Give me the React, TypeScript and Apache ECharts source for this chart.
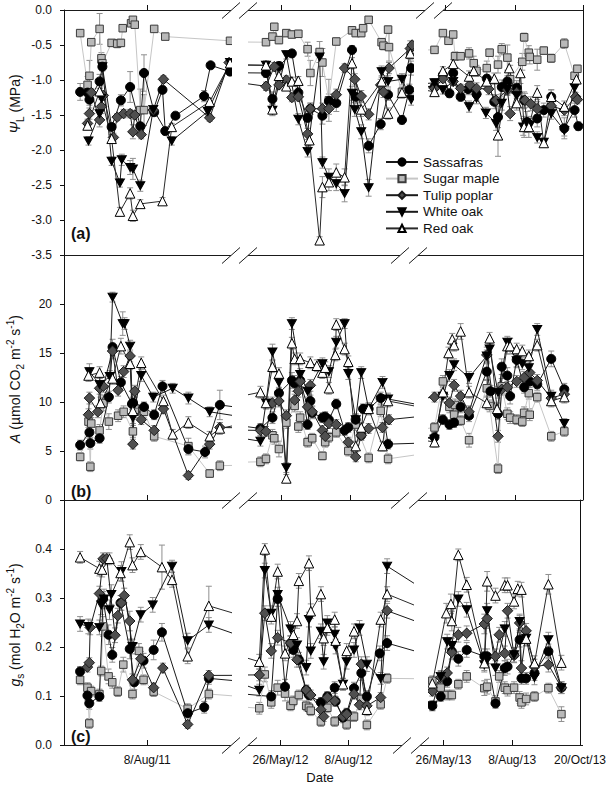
import React, { useEffect, useRef } from 'react';
import * as echarts from 'echarts';

const FONT = "'Liberation Sans', Arial, Helvetica, sans-serif";

const SPECIES = ['Sassafras', 'Sugar maple', 'Tulip poplar', 'White oak', 'Red oak'];
const YEARS = [2011, 2012, 2013];
const YEAR_START_DAY: Record<number, number> = { 2011: 0, 2012: 365, 2013: 731 };

// Tick dates of the broken date axis: [year, day of year, label]
const TICKS: [number, number, string][] = [
  [2011, 220, '8/Aug/11'],
  [2012, 147, '26/May/12'],
  [2012, 221, '8/Aug/12'],
  [2013, 146, '26/May/13'],
  [2013, 220, '8/Aug/13'],
  [2013, 293, '20/Oct/13'],
];

// ---------- Panel (a): leaf water potential (MPa) [doy, mean, se] ----------
const aSas11 = [[147,-1.17,0.12],[155,-1.18,0.06],[157,-1.28,0.08],[168,-1.02,0.1],[171,-0.81,0.05],[181,-1.67,0.05],[191,-1.29,0.08],[201,-1.10,0.22],[212,-1.66,0.05],[216,-0.90,0.26],[227,-1.46,0.05],[236,-1.14,0.05],[239,-1.73,0.05],[250,-1.51,0.04],[281,-1.23,0.08],[288,-0.79,0.04],[309,-0.88,0.05]];
const aSas12 = [[130,-0.90,0.06],[137,-1.27,0.1],[144,-0.80,0.06],[158,-0.62,0.05],[165,-1.18,0.08],[175,-1.54,0.06],[178,-1.41,0.08],[191,-1.51,0.12],[198,-1.30,0.1],[206,-1.33,0.12],[223,-0.57,0.06],[227,-1.24,0.1],[241,-1.94,0.1],[254,-1.63,0.08],[262,-1.21,0.08],[277,-1.57,0.06],[285,-1.14,0.08],[287,-0.83,0.1]];
const aSas13 = [[134,-1.10,0.05],[143,-0.93,0.06],[150,-1.19,0.06],[154,-0.90,0.06],[162,-1.24,0.06],[170,-1.13,0.08],[179,-1.20,0.1],[190,-0.98,0.1],[198,-1.31,0.1],[202,-1.53,0.15],[206,-1.10,0.1],[212,-1.02,0.08],[222,-1.11,0.1],[230,-1.29,0.12],[233,-1.60,0.15],[244,-1.55,0.12],[251,-1.43,0.1],[259,-1.24,0.1],[273,-1.69,0.15],[284,-1.43,0.1],[288,-1.66,0.06]];
const aSug11 = [[147,-0.33,0.04],[155,-1.07,0.12],[157,-0.94,0.22],[159,-0.46,0.05],[168,-0.27,0.22],[170,-0.69,0.08],[171,-0.76,0.06],[181,-0.47,0.05],[187,-0.48,0.06],[191,-0.47,0.05],[193,-0.26,0.04],[202,-0.19,0.04],[204,-0.14,0.03],[206,-0.21,0.04],[212,-1.43,0.3],[216,-1.43,0.22],[227,-0.27,0.04],[239,-0.38,0.04],[309,-0.44,0.04]];
const aSug12 = [[130,-0.46,0.04],[137,-0.38,0.05],[139,-0.24,0.05],[144,-0.43,0.05],[152,-0.33,0.05],[158,-0.35,0.05],[165,-0.34,0.05],[175,-0.56,0.1],[178,-0.90,0.18],[188,-0.60,0.15],[191,-0.75,0.2],[198,-1.29,0.3],[206,-0.45,0.05],[223,-0.29,0.05],[227,-0.33,0.05],[233,-0.33,0.05],[235,-0.26,0.05],[241,-0.14,0.04],[255,-0.46,0.05],[257,-0.51,0.06],[262,-0.28,0.05],[263,-0.53,0.2],[277,-1.17,0.06],[286,-0.64,0.2],[287,-0.57,0.08]];
const aSug13 = [[134,-0.57,0.05],[143,-0.33,0.04],[149,-0.44,0.04],[154,-0.35,0.04],[156,-0.66,0.06],[162,-0.66,0.05],[171,-0.62,0.08],[176,-0.76,0.1],[179,-0.87,0.08],[190,-0.83,0.1],[193,-0.61,0.05],[202,-0.78,0.12],[206,-0.56,0.08],[212,-0.68,0.18],[215,-0.99,0.2],[228,-0.74,0.12],[230,-0.39,0.06],[235,-0.61,0.1],[236,-0.67,0.1],[244,-0.71,0.15],[251,-0.58,0.05],[259,-0.69,0.06],[273,-0.48,0.07],[284,-0.94,0.05],[287,-0.84,0.05]];
const aTul11 = [[155,-1.62,0.06],[157,-1.48,0.08],[159,-1.18,0.06],[168,-1.57,0.1],[170,-1.38,0.1],[172,-1.22,0.06],[183,-1.82,0.06],[187,-1.53,0.05],[194,-1.48,0.06],[201,-1.48,0.06],[204,-1.74,0.1],[206,-1.50,0.06],[213,-1.78,0.06],[226,-1.43,0.05],[237,-0.99,0.05],[287,-1.54,0.05],[308,-0.75,0.05]];
const aTul12 = [[130,-1.09,0.06],[139,-0.81,0.06],[144,-1.07,0.06],[152,-1.00,0.06],[158,-1.25,0.06],[165,-1.24,0.06],[175,-1.77,0.08],[178,-1.41,0.08],[191,-1.41,0.08],[198,-1.41,0.08],[206,-1.21,0.08],[215,-0.83,0.06],[226,-0.99,0.08],[233,-1.23,0.08],[241,-1.49,0.08],[254,-1.07,0.08],[257,-1.17,0.08],[263,-0.83,0.08],[286,-0.55,0.06],[288,-0.50,0.05]];
const aTul13 = [[134,-1.12,0.06],[143,-0.98,0.06],[154,-1.02,0.06],[162,-1.12,0.06],[172,-1.07,0.08],[179,-1.12,0.08],[192,-1.13,0.08],[200,-1.29,0.08],[212,-1.14,0.08],[215,-1.48,0.1],[222,-1.18,0.08],[231,-1.29,0.1],[237,-1.34,0.1],[244,-1.41,0.1],[259,-1.37,0.08],[273,-1.43,0.08],[285,-1.24,0.06],[287,-1.28,0.06]];
const aWo11 = [[156,-1.87,0.06],[168,-1.48,0.08],[170,-1.26,0.1],[171,-0.81,0.06],[181,-2.16,0.06],[190,-2.47,0.06],[192,-2.14,0.08],[201,-2.25,0.1],[204,-2.27,0.15],[212,-2.51,0.08],[226,-1.42,0.05],[246,-1.87,0.06],[285,-1.45,0.05],[309,-0.75,0.05]];
const aWo12 = [[130,-0.79,0.06],[137,-1.43,0.08],[152,-0.64,0.06],[165,-1.56,0.08],[175,-2.02,0.08],[188,-0.67,0.08],[191,-2.18,0.08],[198,-2.39,0.12],[206,-2.48,0.1],[215,-2.62,0.12],[223,-1.19,0.1],[226,-1.42,0.1],[233,-1.74,0.1],[241,-2.54,0.12],[255,-0.88,0.08],[262,-1.02,0.08],[277,-0.99,0.08],[287,-1.28,0.08]];
const aWo13 = [[134,-1.04,0.06],[143,-1.14,0.06],[154,-1.02,0.06],[171,-1.38,0.08],[179,-1.26,0.08],[189,-1.47,0.08],[200,-1.62,0.1],[206,-1.33,0.1],[212,-1.13,0.08],[222,-1.22,0.1],[229,-1.67,0.12],[236,-1.65,0.1],[244,-1.82,0.08],[251,-1.89,0.06],[259,-1.48,0.08],[273,-1.72,0.08],[284,-1.11,0.06]];
const aRo11 = [[155,-1.65,0.06],[168,-1.16,0.08],[181,-1.84,0.06],[190,-2.88,0.06],[201,-2.62,0.08],[204,-2.94,0.08],[212,-2.77,0.06],[236,-2.73,0.05],[246,-1.67,0.05],[287,-1.31,0.05],[309,-0.76,0.05]];
const aRo12 = [[130,-0.79,0.06],[137,-1.42,0.08],[144,-0.94,0.06],[152,-1.09,0.06],[158,-1.02,0.06],[165,-1.01,0.06],[177,-1.86,0.08],[188,-3.29,0.05],[191,-2.53,0.15],[198,-2.46,0.12],[206,-2.32,0.12],[215,-2.39,0.12],[223,-0.76,0.08],[233,-1.42,0.1],[255,-1.02,0.08],[262,-1.48,0.08],[277,-1.18,0.08],[286,-0.62,0.08]];
const aRo13 = [[134,-1.17,0.06],[143,-0.87,0.06],[154,-0.77,0.06],[171,-0.95,0.08],[176,-0.87,0.08],[190,-1.02,0.08],[198,-0.98,0.08],[202,-1.79,0.3],[214,-0.83,0.1],[222,-1.33,0.1],[226,-0.90,0.15],[230,-1.67,0.15],[235,-1.67,0.15],[244,-1.18,0.1],[251,-1.90,0.06],[259,-1.24,0.1],[273,-1.38,0.08],[286,-0.99,0.06]];

// ---------- Panel (b): net assimilation A ----------
const bSas11 = [[147,5.6,0.5],[157,6.9,0.6],[158,5.8,0.6],[168,6.3,0.5],[178,10.5,0.6],[182,15.6,0.8],[191,12.0,0.6],[203,9.8,0.6],[204,9.9,0.6],[216,9.5,0.5],[227,8.7,0.5],[236,11.6,0.6],[264,5.2,0.6],[282,4.9,0.6],[298,9.7,1.5]];
const bSas12 = [[124,7.3,0.5],[137,8.4,0.6],[144,10.9,0.6],[158,12.2,0.8],[161,11.9,0.8],[167,12.2,0.6],[175,7.7,0.5],[178,10.1,0.6],[180,8.9,0.6],[191,8.4,0.5],[194,8.5,0.5],[198,8.2,0.5],[206,9.8,0.5],[215,7.1,0.5],[219,7.4,0.5],[227,8.2,0.5],[233,6.6,0.5],[235,9.3,0.5],[241,9.3,0.5],[254,10.4,0.6],[262,5.7,0.5]];
const bSas13 = [[134,6.4,0.5],[143,8.2,0.5],[150,7.7,0.5],[155,7.9,0.5],[162,9.5,0.6],[171,8.6,0.6],[190,13.1,0.8],[194,11.1,0.6],[202,8.8,0.6],[206,13.6,0.8],[212,12.7,0.8],[215,10.6,0.8],[222,14.3,0.8],[230,11.5,0.6],[236,12.1,0.6],[244,11.8,0.6],[259,14.4,0.8],[273,11.3,0.6]];
const bSug11 = [[147,4.4,0.4],[156,8.0,0.6],[158,3.4,0.5],[159,7.8,0.6],[168,7.1,0.6],[172,9.9,0.8],[178,8.0,0.8],[188,8.6,0.6],[194,9.0,0.6],[204,7.0,0.6],[206,9.0,0.6],[216,9.0,0.6],[227,6.5,0.5],[264,5.5,0.8],[287,2.7,0.4],[298,3.5,0.5]];
const bSug12 = [[124,3.9,0.5],[130,4.2,0.5],[137,6.6,0.6],[139,6.3,0.6],[144,5.2,0.8],[152,7.9,0.6],[161,9.6,0.6],[165,7.5,0.6],[167,8.4,0.6],[175,5.9,0.5],[180,6.3,0.5],[191,4.5,0.4],[194,5.9,0.5],[198,6.4,0.5],[206,6.9,0.5],[219,5.0,0.5],[227,7.7,0.6],[241,4.3,0.5],[254,9.1,0.6],[262,4.2,0.5]];
const bSug13 = [[134,7.4,0.5],[143,12.1,0.6],[150,9.5,0.6],[155,8.7,0.6],[156,9.7,0.6],[162,8.1,0.5],[171,6.1,0.7],[190,11.4,0.8],[193,9.6,0.6],[202,3.2,0.5],[206,11.6,0.8],[212,8.8,0.6],[215,8.4,0.6],[222,8.2,0.5],[228,8.0,0.5],[230,8.9,0.6],[235,10.9,0.6],[236,8.7,0.6],[244,10.5,0.5],[259,6.5,0.5],[273,7.0,0.5]];
const bTul11 = [[156,8.7,0.6],[157,10.4,0.6],[166,9.0,0.6],[168,11.4,0.6],[172,11.6,0.6],[182,15.2,0.8],[188,11.2,0.6],[194,13.1,0.6],[201,14.7,0.6],[204,5.7,0.5],[206,11.1,0.6],[213,8.2,0.5],[227,7.1,0.5],[237,9.3,0.5],[264,2.5,0.4],[287,5.7,0.5],[298,7.4,0.5]];
const bTul12 = [[124,7.1,0.5],[130,7.0,0.5],[137,9.9,0.6],[144,10.1,0.6],[152,8.6,0.6],[161,10.2,0.6],[165,11.1,0.6],[167,12.1,0.6],[175,9.5,0.6],[178,11.7,0.6],[180,9.0,0.6],[191,7.1,0.5],[194,6.5,0.5],[198,7.8,0.5],[206,7.7,0.5],[219,5.9,0.5],[227,4.4,0.5],[233,6.6,0.5],[241,7.3,0.5],[256,7.4,0.5],[263,8.2,0.5]];
const bTul13 = [[134,10.5,0.5],[143,10.8,0.5],[150,9.9,0.6],[155,11.7,0.6],[162,10.6,0.6],[171,9.0,0.6],[190,14.8,0.8],[202,6.5,0.6],[206,11.3,0.6],[212,11.5,0.6],[222,12.1,0.6],[230,12.5,0.6],[236,13.0,0.6],[244,12.2,0.6],[259,10.4,0.6],[273,10.8,0.6]];
const bWo11 = [[157,13.1,0.8],[168,11.8,0.6],[179,12.6,0.6],[182,20.7,0.5],[193,18.0,1.2],[195,18.0,0.6],[201,15.7,0.6],[204,8.4,0.6],[213,12.7,0.6],[226,10.5,0.5],[247,11.4,0.5],[264,10.4,0.6],[287,9.0,0.5]];
const bWo12 = [[124,6.0,0.5],[130,9.9,0.6],[137,15.1,0.8],[144,12.0,0.6],[152,3.3,0.5],[158,18.0,0.6],[167,12.8,0.6],[175,11.1,0.6],[191,13.9,0.6],[198,13.1,0.6],[206,16.1,0.6],[215,18.0,0.5],[219,12.9,0.6],[227,8.2,0.6],[233,13.0,0.6],[241,9.3,0.6],[256,12.0,0.6],[262,10.3,0.6]];
const bWo13 = [[134,6.2,0.5],[143,10.6,0.6],[150,12.7,0.6],[155,13.8,0.6],[171,12.5,0.6],[190,14.7,0.6],[193,15.4,0.6],[202,11.0,0.6],[212,16.1,0.6],[222,14.2,0.6],[228,13.9,0.6],[235,13.5,0.6],[244,17.4,0.6],[259,10.6,0.6],[273,7.8,0.5]];
const bRo11 = [[156,12.7,0.6],[168,13.0,0.6],[169,9.9,0.6],[182,12.4,0.6],[191,15.7,0.8],[201,13.9,0.6],[204,9.1,0.6],[213,14.0,0.6],[237,10.1,0.6],[247,6.7,0.5],[264,7.9,0.6],[287,6.5,0.5],[298,7.3,0.6]];
const bRo12 = [[124,11.0,0.6],[130,9.9,0.6],[137,13.6,0.6],[144,12.9,0.6],[152,2.2,0.4],[158,16.0,0.6],[161,14.4,0.6],[167,14.4,0.6],[178,14.0,0.6],[185,13.7,0.6],[191,13.0,0.6],[194,13.5,0.6],[198,11.4,0.6],[205,14.8,0.6],[206,17.9,0.6],[215,15.4,0.6],[219,14.1,0.6],[227,5.5,0.5],[233,7.4,0.5],[241,9.3,0.6],[256,5.5,0.5],[262,10.1,0.6]];
const bRo13 = [[134,5.9,0.5],[143,11.0,0.6],[149,15.0,0.6],[153,16.4,0.6],[155,15.8,0.6],[162,17.2,0.8],[171,11.0,0.6],[190,9.9,0.6],[193,16.5,0.6],[201,9.3,0.6],[212,15.7,0.8],[215,15.7,0.8],[222,15.4,0.6],[228,15.2,0.6],[235,14.7,0.6],[244,15.8,0.6],[259,10.1,0.6],[273,10.5,0.6]];

// ---------- Panel (c): stomatal conductance gs ----------
const cSas11 = [[147,0.150,0.01],[155,0.101,0.01],[157,0.085,0.012],[168,0.099,0.01],[172,0.298,0.015],[178,0.225,0.02],[182,0.184,0.015],[191,0.290,0.015],[201,0.196,0.02],[206,0.128,0.015],[216,0.172,0.015],[227,0.194,0.02],[236,0.230,0.018],[264,0.065,0.01],[282,0.077,0.012],[287,0.136,0.012]];
const cSas12 = [[137,0.099,0.012],[144,0.298,0.015],[152,0.119,0.015],[158,0.208,0.015],[161,0.194,0.015],[167,0.174,0.015],[175,0.112,0.01],[178,0.102,0.01],[191,0.087,0.01],[198,0.099,0.01],[206,0.117,0.012],[207,0.089,0.01],[215,0.056,0.01],[219,0.065,0.01],[227,0.116,0.012],[235,0.147,0.015],[241,0.099,0.012],[255,0.187,0.015],[263,0.208,0.015]];
const cSas13 = [[134,0.080,0.01],[143,0.099,0.01],[150,0.130,0.012],[155,0.191,0.015],[162,0.176,0.015],[171,0.194,0.015],[190,0.181,0.015],[193,0.181,0.015],[202,0.085,0.01],[212,0.157,0.015],[215,0.160,0.015],[222,0.184,0.015],[228,0.215,0.015],[230,0.136,0.012],[235,0.136,0.012],[244,0.147,0.015],[259,0.191,0.015],[273,0.117,0.012]];
const cSug11 = [[147,0.133,0.01],[155,0.117,0.01],[157,0.044,0.01],[159,0.110,0.01],[168,0.104,0.01],[170,0.151,0.01],[172,0.242,0.02],[178,0.140,0.015],[182,0.128,0.012],[188,0.109,0.01],[194,0.164,0.015],[204,0.104,0.01],[211,0.192,0.015],[216,0.133,0.01],[227,0.109,0.01],[264,0.074,0.01],[287,0.104,0.01]];
const cSug12 = [[124,0.075,0.012],[130,0.144,0.015],[137,0.087,0.012],[144,0.117,0.015],[152,0.105,0.015],[158,0.080,0.01],[161,0.090,0.01],[167,0.102,0.01],[175,0.080,0.01],[178,0.076,0.01],[180,0.070,0.01],[191,0.048,0.01],[198,0.076,0.01],[206,0.048,0.01],[219,0.042,0.01],[227,0.058,0.01],[235,0.094,0.01],[241,0.041,0.01],[256,0.083,0.01],[263,0.136,0.01]];
const cSug13 = [[134,0.131,0.01],[143,0.117,0.01],[150,0.102,0.01],[155,0.102,0.01],[162,0.124,0.01],[171,0.140,0.012],[190,0.116,0.015],[193,0.119,0.015],[202,0.089,0.012],[206,0.140,0.012],[212,0.117,0.012],[215,0.112,0.012],[222,0.117,0.012],[228,0.097,0.012],[230,0.087,0.012],[235,0.094,0.012],[244,0.099,0.01],[259,0.116,0.01],[273,0.063,0.015]];
const cTul11 = [[155,0.159,0.01],[157,0.168,0.01],[158,0.240,0.015],[168,0.309,0.015],[172,0.380,0.012],[176,0.380,0.012],[185,0.224,0.015],[188,0.264,0.015],[192,0.290,0.015],[195,0.305,0.015],[201,0.253,0.02],[204,0.133,0.012],[213,0.176,0.015],[227,0.117,0.01],[237,0.157,0.01],[264,0.042,0.008],[287,0.142,0.01]];
const cTul12 = [[124,0.143,0.012],[130,0.269,0.015],[137,0.192,0.015],[144,0.219,0.015],[158,0.208,0.015],[165,0.174,0.015],[175,0.112,0.01],[180,0.102,0.01],[191,0.072,0.01],[194,0.058,0.01],[198,0.097,0.01],[206,0.090,0.01],[215,0.058,0.01],[219,0.063,0.01],[227,0.104,0.01],[233,0.082,0.01],[235,0.165,0.015],[241,0.080,0.01],[256,0.097,0.01],[263,0.274,0.015]];
const cTul13 = [[134,0.110,0.01],[143,0.138,0.012],[150,0.147,0.012],[155,0.189,0.015],[162,0.225,0.015],[171,0.228,0.015],[190,0.247,0.02],[193,0.258,0.02],[202,0.181,0.015],[206,0.225,0.015],[212,0.187,0.015],[215,0.274,0.015],[222,0.183,0.015],[228,0.249,0.015],[230,0.157,0.015],[235,0.233,0.015],[244,0.160,0.015],[259,0.164,0.015],[273,0.117,0.012]];
const cWo11 = [[147,0.247,0.015],[156,0.242,0.015],[168,0.240,0.015],[170,0.286,0.02],[173,0.298,0.02],[179,0.276,0.02],[181,0.307,0.02],[192,0.354,0.02],[204,0.201,0.015],[213,0.266,0.015],[226,0.286,0.015],[247,0.365,0.012],[264,0.213,0.015],[287,0.245,0.015]];
const cWo12 = [[124,0.112,0.012],[130,0.356,0.015],[137,0.269,0.015],[144,0.307,0.015],[158,0.237,0.015],[165,0.204,0.015],[175,0.158,0.015],[178,0.256,0.015],[180,0.192,0.015],[191,0.232,0.015],[194,0.170,0.015],[198,0.249,0.015],[206,0.226,0.015],[207,0.201,0.015],[215,0.124,0.012],[219,0.170,0.015],[227,0.194,0.015],[233,0.239,0.015],[241,0.165,0.015],[256,0.136,0.012],[263,0.365,0.015]];
const cWo13 = [[134,0.080,0.01],[143,0.140,0.012],[150,0.211,0.015],[155,0.203,0.015],[162,0.298,0.015],[171,0.276,0.015],[190,0.164,0.015],[193,0.274,0.015],[202,0.157,0.015],[212,0.237,0.015],[222,0.184,0.015],[228,0.252,0.015],[235,0.218,0.015],[244,0.138,0.015],[259,0.215,0.015],[273,0.117,0.012]];
const cRo11 = [[147,0.383,0.012],[168,0.360,0.015],[171,0.358,0.015],[179,0.380,0.012],[191,0.351,0.015],[201,0.414,0.015],[204,0.367,0.015],[213,0.394,0.015],[236,0.363,0.045],[247,0.337,0.015],[264,0.181,0.015],[287,0.284,0.04]];
const cRo12 = [[124,0.170,0.015],[130,0.399,0.012],[137,0.262,0.015],[144,0.354,0.015],[152,0.187,0.015],[161,0.225,0.015],[165,0.253,0.015],[167,0.335,0.015],[178,0.371,0.015],[180,0.273,0.015],[191,0.308,0.015],[194,0.218,0.015],[198,0.239,0.015],[206,0.256,0.015],[207,0.213,0.015],[215,0.124,0.012],[219,0.192,0.015],[227,0.232,0.015],[241,0.072,0.012],[256,0.256,0.015],[263,0.308,0.015]];
const cRo13 = [[134,0.126,0.012],[149,0.269,0.02],[154,0.288,0.02],[155,0.253,0.02],[162,0.388,0.012],[171,0.327,0.015],[190,0.167,0.015],[193,0.334,0.02],[202,0.305,0.015],[212,0.326,0.015],[215,0.326,0.015],[222,0.293,0.015],[226,0.319,0.015],[230,0.317,0.015],[235,0.217,0.015],[244,0.167,0.015],[259,0.328,0.02],[273,0.168,0.015]];

const PANEL_A = [[aSas11, aSas12, aSas13], [aSug11, aSug12, aSug13], [aTul11, aTul12, aTul13], [aWo11, aWo12, aWo13], [aRo11, aRo12, aRo13]];
const PANEL_B = [[bSas11, bSas12, bSas13], [bSug11, bSug12, bSug13], [bTul11, bTul12, bTul13], [bWo11, bWo12, bWo13], [bRo11, bRo12, bRo13]];
const PANEL_C = [[cSas11, cSas12, cSas13], [cSug11, cSug12, cSug13], [cTul11, cTul12, cTul13], [cWo11, cWo12, cWo13], [cRo11, cRo12, cRo13]];
const PANELS = [PANEL_A, PANEL_B, PANEL_C];

// ---------- broken date axis scale ----------
const AXIS_SEG: Record<number, { doy: number; pos: number; k: number }> = {
  2011: { doy: 220, pos: 83.7, k: 0.925 },
  2012: { doy: 147, pos: 217.7, k: 0.925 },
  2013: { doy: 146, pos: 381.7, k: 0.934 },
};
const PX_PER_DAY = 0.925;
const AXIS_MAX = 519;
function dateToAxis(year: number, doy: number) {
  const s = AXIS_SEG[year];
  return s.pos + (doy - s.doy) * s.k;
}
const TICK_VALUES = TICKS.map(([y, d]) => dateToAxis(y, d));
function tickLabel(v: number) {
  const i = TICK_VALUES.findIndex((t) => Math.abs(t - v) < 0.01);
  return i >= 0 ? TICKS[i][2] : '';
}

// ---------- layout ----------
const GRID_LEFT = 64;
const GRID_WIDTH = 519;
const GRIDS = [
  { top: 10, height: 245 },
  { top: 255, height: 245 },
  { top: 500, height: 245 },
];
const Y_AXES = [
  { min: -3.5, max: 0, interval: 0.5, fmt: (v: number) => v.toFixed(1) },
  { min: 0, max: 25, interval: 5, fmt: (v: number) => (v >= 24.99 ? '' : String(Math.round(v))) },
  { min: 0, max: 0.5, interval: 0.1, fmt: (v: number) => (v >= 0.499 ? '' : v.toFixed(1)) },
];

const STYLES = [
  { symbol: 'circle', size: 9, fill: '#000000', border: '#000000', line: '#1a1a1a' },
  { symbol: 'rect', size: 7.5, fill: '#b9b9b9', border: '#3c3c3c', line: '#c6c6c6' },
  { symbol: 'diamond', size: 10.5, fill: '#4f4f4f', border: '#1a1a1a', line: '#1a1a1a' },
  { symbol: 'path://M0,0L10,0L5,9Z', size: [9, 8], fill: '#000000', border: '#000000', line: '#1a1a1a' },
  { symbol: 'triangle', size: 9.5, fill: '#ffffff', border: '#000000', line: '#2a2a2a' },
];
const DRAW_ORDER = [1, 0, 2, 3, 4];

// frame lines with break gaps (pixels)
const FRAME_ROWS = [
  { y: 10.5, breaks: [231, 248, 425, 443] },
  { y: 255.5, breaks: [231, 248, 400, 418] },
  { y: 500.5, breaks: [231, 248, 400, 418] },
  { y: 745.5, breaks: [231, 248, 402, 420] },
];
const DATA_GAPS = [
  [232, 248],
  [414, 428],
];

function toAxisPoints(year: number, arr: number[][]) {
  return arr.map(([doy, val, se]) => [dateToAxis(year, doy), val, se]);
}

function buildOption() {
  const grid = GRIDS.map((g) => ({ left: GRID_LEFT, width: GRID_WIDTH, top: g.top, height: g.height }));
  const xAxis = GRIDS.map((_, p) => ({
    type: 'value',
    gridIndex: p,
    min: 0,
    max: AXIS_MAX,
    position: 'bottom',
    axisLine: { show: false },
    splitLine: { show: false },
    axisTick: { show: true, inside: true, length: 5, customValues: TICK_VALUES, lineStyle: { color: '#111', width: 1 } },
    axisLabel: {
      show: p === 2,
      customValues: TICK_VALUES,
      formatter: (v: number) => tickLabel(v),
      margin: 9,
      fontSize: 12,
      color: '#111',
      fontFamily: FONT,
    },
  }));
  const yAxis: any[] = [];
  Y_AXES.forEach((ya, p) => {
    yAxis.push({
      type: 'value',
      gridIndex: p,
      min: ya.min,
      max: ya.max,
      interval: ya.interval,
      position: 'left',
      axisLine: { show: true, lineStyle: { color: '#111', width: 1 } },
      axisTick: { show: true, inside: false, length: 4, lineStyle: { color: '#111' } },
      splitLine: { show: false },
      axisLabel: { formatter: ya.fmt, fontSize: 12, color: '#111', fontFamily: FONT, margin: 12 },
    });
    yAxis.push({
      type: 'value',
      gridIndex: p,
      min: ya.min,
      max: ya.max,
      interval: ya.interval,
      position: 'right',
      axisLine: { show: true, lineStyle: { color: '#111', width: 1 } },
      axisTick: { show: false },
      splitLine: { show: false },
      axisLabel: { show: false },
    });
  });

  const series: any[] = [];
  const gapMids = DATA_GAPS.map(([a, b]) => (a + b) / 2);

  PANELS.forEach((panel, p) => {
    // error bars
    DRAW_ORDER.forEach((s) => {
      const pts: number[][] = [];
      panel[s].forEach((arr, yi) => pts.push(...toAxisPoints(YEARS[yi], arr)));
      series.push({
        type: 'custom',
        name: 'err-' + p + '-' + s,
        xAxisIndex: p,
        yAxisIndex: 2 * p,
        silent: true,
        z: 1,
        dimensions: ['x', 'y', 'se'],
        encode: { x: 0, y: 1 },
        data: pts,
        renderItem: (params: any, api: any) => {
          const x = api.value(0);
          const y = api.value(1);
          const e = api.value(2);
          const lo = api.coord([x, y - e]);
          const hi = api.coord([x, y + e]);
          const st = { stroke: '#8f8f8f', lineWidth: 1 };
          return {
            type: 'group',
            children: [
              { type: 'line', shape: { x1: lo[0], y1: lo[1], x2: hi[0], y2: hi[1] }, style: st },
              { type: 'line', shape: { x1: lo[0] - 3, y1: lo[1], x2: lo[0] + 3, y2: lo[1] }, style: st },
              { type: 'line', shape: { x1: hi[0] - 3, y1: hi[1], x2: hi[0] + 3, y2: hi[1] }, style: st },
            ],
          };
        },
      });
    });
    // connectors across the axis breaks: the line between the last point of a season and
    // the first point of the next, drawn on the real time scale and hidden inside the break
    DRAW_ORDER.forEach((s) => {
      const st = STYLES[s];
      const conn: number[][] = [];
      for (let yi = 0; yi < 2; yi++) {
        const a = panel[s][yi][panel[s][yi].length - 1];
        const b = panel[s][yi + 1][0];
        const realDays = YEAR_START_DAY[YEARS[yi + 1]] + b[0] - (YEAR_START_DAY[YEARS[yi]] + a[0]);
        conn.push([dateToAxis(YEARS[yi], a[0]), a[1], dateToAxis(YEARS[yi + 1], b[0]), b[1], realDays, yi]);
      }
      series.push({
        type: 'custom',
        name: 'conn-' + p + '-' + s,
        xAxisIndex: p,
        yAxisIndex: 2 * p,
        silent: true,
        z: 2,
        dimensions: ['x1', 'y1', 'x2', 'y2', 'days', 'gap'],
        encode: { x: [0, 2], y: [1, 3] },
        data: conn,
        renderItem: (params: any, api: any) => {
          const p1 = api.coord([api.value(0), api.value(1)]);
          const p2 = api.coord([api.value(2), api.value(3)]);
          const days = api.value(4);
          const gm = gapMids[api.value(5)];
          const slope = (p2[1] - p1[1]) / (days * PX_PER_DAY);
          const ls = { stroke: st.line, lineWidth: 1 };
          return {
            type: 'group',
            children: [
              { type: 'line', shape: { x1: p1[0], y1: p1[1], x2: gm, y2: p1[1] + slope * (gm - p1[0]) }, style: ls },
              { type: 'line', shape: { x1: gm, y1: p2[1] - slope * (p2[0] - gm), x2: p2[0], y2: p2[1] }, style: ls },
            ],
          };
        },
      });
    });
    // lines + markers, one series per season
    DRAW_ORDER.forEach((s) => {
      const st = STYLES[s];
      panel[s].forEach((arr, yi) => {
        series.push({
          type: 'line',
          name: SPECIES[s],
          xAxisIndex: p,
          yAxisIndex: 2 * p,
          z: 3,
          data: toAxisPoints(YEARS[yi], arr).map((d) => [d[0], d[1]]),
          symbol: st.symbol,
          symbolSize: st.size,
          showSymbol: true,
          lineStyle: { color: st.line, width: 1 },
          itemStyle: { color: st.fill, borderColor: st.border, borderWidth: 1 },
          emphasis: { disabled: true },
          silent: true,
        });
      });
    });
  });

  const graphics: any[] = [];
  DATA_GAPS.forEach(([x1, x2]) => {
    graphics.push({ type: 'rect', z: 100, shape: { x: x1, y: 11, width: x2 - x1, height: 734 }, style: { fill: '#ffffff' }, silent: true });
  });
  const lineStyle = { stroke: '#1a1a1a', lineWidth: 1 };
  FRAME_ROWS.forEach((row) => {
    const [b1, b2, b3, b4] = row.breaks;
    const segs = [
      [GRID_LEFT, b1],
      [b2, b3],
      [b4, GRID_LEFT + GRID_WIDTH],
    ];
    segs.forEach(([x1, x2]) => {
      graphics.push({ type: 'line', z: 110, shape: { x1, y1: row.y, x2, y2: row.y }, style: lineStyle, silent: true });
    });
    row.breaks.forEach((cx) => {
      graphics.push({ type: 'line', z: 110, shape: { x1: cx - 9, y1: row.y + 8, x2: cx + 9, y2: row.y - 8 }, style: lineStyle, silent: true });
    });
  });

  const rich = {
    i: { fontSize: 14, fontStyle: 'italic', fontFamily: FONT, fill: '#111', lineHeight: 20 },
    n: { fontSize: 14, fontFamily: FONT, fill: '#111', lineHeight: 20 },
    sub: { fontSize: 10, fontFamily: FONT, fill: '#111', lineHeight: 11, verticalAlign: 'bottom' },
    sup: { fontSize: 10, fontFamily: FONT, fill: '#111', lineHeight: 11, verticalAlign: 'top' },
  };
  const yTitles = [
    { y: 104, text: '{i|Ψ}{sub|L}{n| (MPa)}' },
    { y: 379, text: '{i|A}{n| (µmol CO}{sub|2}{n| m}{sup|-2}{n| s}{sup|-1}{n|)}' },
    { y: 625, text: '{i|g}{sub|s}{n| (mol H}{sub|2}{n|O m}{sup|-2}{n| s}{sup|-1}{n|)}' },
  ];
  yTitles.forEach((t) => {
    graphics.push({
      type: 'text',
      z: 120,
      x: 15,
      y: t.y,
      rotation: Math.PI / 2,
      silent: true,
      style: { text: t.text, rich, align: 'center', verticalAlign: 'middle' },
    });
  });
  const panelLabels = [
    { y: 233, text: '(a)' },
    { y: 491, text: '(b)' },
    { y: 736, text: '(c)' },
  ];
  panelLabels.forEach((l) => {
    graphics.push({
      type: 'text',
      z: 120,
      x: 71,
      y: l.y,
      silent: true,
      style: { text: l.text, fontSize: 16, fontWeight: 'bold', fontFamily: FONT, fill: '#111', align: 'left', verticalAlign: 'middle' },
    });
  });
  graphics.push({
    type: 'text',
    z: 120,
    x: 320,
    y: 777,
    silent: true,
    style: { text: 'Date', fontSize: 13, fontFamily: FONT, fill: '#111', align: 'center', verticalAlign: 'middle' },
  });

  return {
    animation: false,
    backgroundColor: '#ffffff',
    grid,
    xAxis,
    yAxis,
    series,
    legend: {
      data: SPECIES,
      orient: 'vertical',
      left: 385,
      top: 154,
      itemWidth: 32,
      itemHeight: 9,
      itemGap: 0.6,
      padding: 0,
      selectedMode: false,
      z: 200,
      textStyle: { fontSize: 13.5, lineHeight: 16, color: '#111', fontFamily: FONT },
    },
    graphic: { elements: graphics },
  };
}

export default function App() {
  const ref = useRef<HTMLDivElement>(null);
  useEffect(() => {
    document.body.style.margin = '0';
    const chart = echarts.init(ref.current as HTMLDivElement, null, { renderer: 'svg' });
    chart.setOption(buildOption() as any);
    return () => chart.dispose();
  }, []);
  return <div ref={ref} style={{ width: 609, height: 785 }} />;
}
